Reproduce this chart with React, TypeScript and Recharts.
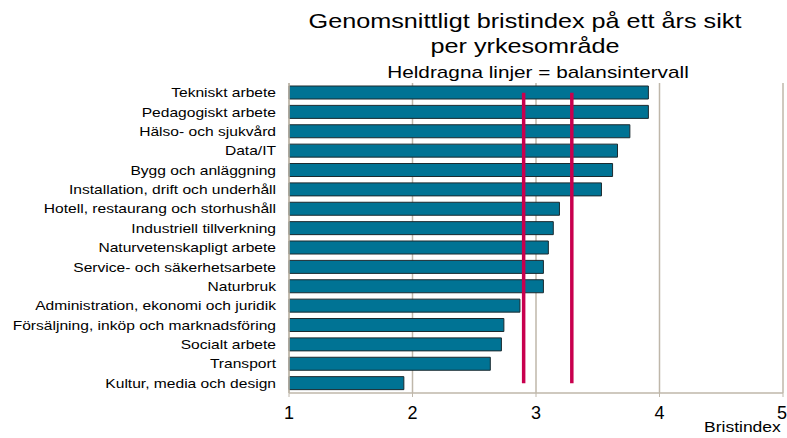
import React from 'react';
import { BarChart, Bar, XAxis, YAxis, CartesianGrid, ReferenceLine } from 'recharts';

const categories = [
  'Tekniskt arbete',
  'Pedagogiskt arbete',
  'Hälso- och sjukvård',
  'Data/IT',
  'Bygg och anläggning',
  'Installation, drift och underhåll',
  'Hotell, restaurang och storhushåll',
  'Industriell tillverkning',
  'Naturvetenskapligt arbete',
  'Service- och säkerhetsarbete',
  'Naturbruk',
  'Administration, ekonomi och juridik',
  'Försäljning, inköp och marknadsföring',
  'Socialt arbete',
  'Transport',
  'Kultur, media och design',
];

const bristindex = [3.91, 3.91, 3.76, 3.66, 3.62, 3.53, 3.19, 3.14, 3.10, 3.06, 3.06, 2.87, 2.74, 2.72, 2.63, 1.93];

const xTicks = [1, 2, 3, 4, 5];
const balansintervall = [2.9, 3.29];

const data = categories.map((name, i) => ({ name, value: bristindex[i] }));

const font = '"Liberation Sans", Arial, sans-serif';
const gridColor = '#bfb7aa';

// the reference text is drawn a bit wider than plain Arial
const CategoryTick = (props: any) => {
  const { x, y, payload } = props;
  return (
    <g transform={`translate(${x},${y}) scale(1.2,1)`}>
      <text textAnchor="end" dy="0.35em" fill="#000" fontSize={13} fontFamily={font}>
        {payload.value}
      </text>
    </g>
  );
};

const ValueTick = (props: any) => {
  const { x, y, payload } = props;
  // keep the last label inside the picture
  const last = payload.value === xTicks[xTicks.length - 1];
  return (
    <g transform={`translate(${x},${y})`}>
      <text textAnchor={last ? 'end' : 'middle'} dx={last ? 4 : 0} dy="0.9em" fill="#000" fontSize={18} fontFamily={font}>
        {payload.value}
      </text>
    </g>
  );
};

export default function App() {
  return (
    <div style={{ position: 'absolute', left: 0, top: 0, width: 787, height: 438, background: '#fff', fontFamily: font }}>
      <div style={{ position: 'absolute', left: 0, top: 8, width: 1050, textAlign: 'center', fontSize: 21, lineHeight: '25px', color: '#000', transform: 'scaleX(1.2)', transformOrigin: '50% 50%' }}>
        Genomsnittligt bristindex på ett års sikt
        <br />
        per yrkesområde
      </div>
      <div style={{ position: 'absolute', left: 0, top: 63, width: 1076, textAlign: 'center', fontSize: 17, lineHeight: '20px', color: '#000', transform: 'scaleX(1.22)', transformOrigin: '50% 50%' }}>
        Heldragna linjer = balansintervall
      </div>
      <BarChart
        width={787}
        height={438}
        data={data}
        layout="vertical"
        margin={{ top: 83, right: 4, bottom: 0, left: 0 }}
        barCategoryGap={3}
      >
        <CartesianGrid horizontal={false} vertical={true} stroke={gridColor} strokeWidth={1.5} />
        <XAxis
          type="number"
          domain={[1, 5]}
          ticks={xTicks}
          height={45}
          axisLine={{ stroke: gridColor, strokeWidth: 1.5 }}
          tickLine={{ stroke: gridColor }}
          tickSize={4}
          tickMargin={6}
          tick={<ValueTick />}
        />
        <YAxis
          type="category"
          dataKey="name"
          width={289}
          axisLine={{ stroke: gridColor, strokeWidth: 1.5 }}
          tickLine={false}
          tickSize={0}
          tickMargin={13}
          interval={0}
          tick={<CategoryTick />}
        />
        <Bar dataKey="value" fill="#007394" stroke="#1b2a2f" strokeWidth={1} barSize={13} isAnimationActive={false} />
        {balansintervall.map((v) => (
          <ReferenceLine
            key={v}
            segment={[
              { x: v, y: categories[0] },
              { x: v, y: categories[categories.length - 1] },
            ]}
            stroke="#c8004e"
            strokeWidth={3.5}
          />
        ))}
      </BarChart>
      <div style={{ position: 'absolute', left: 704, top: 419, fontSize: 14, color: '#000', transform: 'scaleX(1.25)', transformOrigin: '0 50%' }}>Bristindex</div>
    </div>
  );
}
